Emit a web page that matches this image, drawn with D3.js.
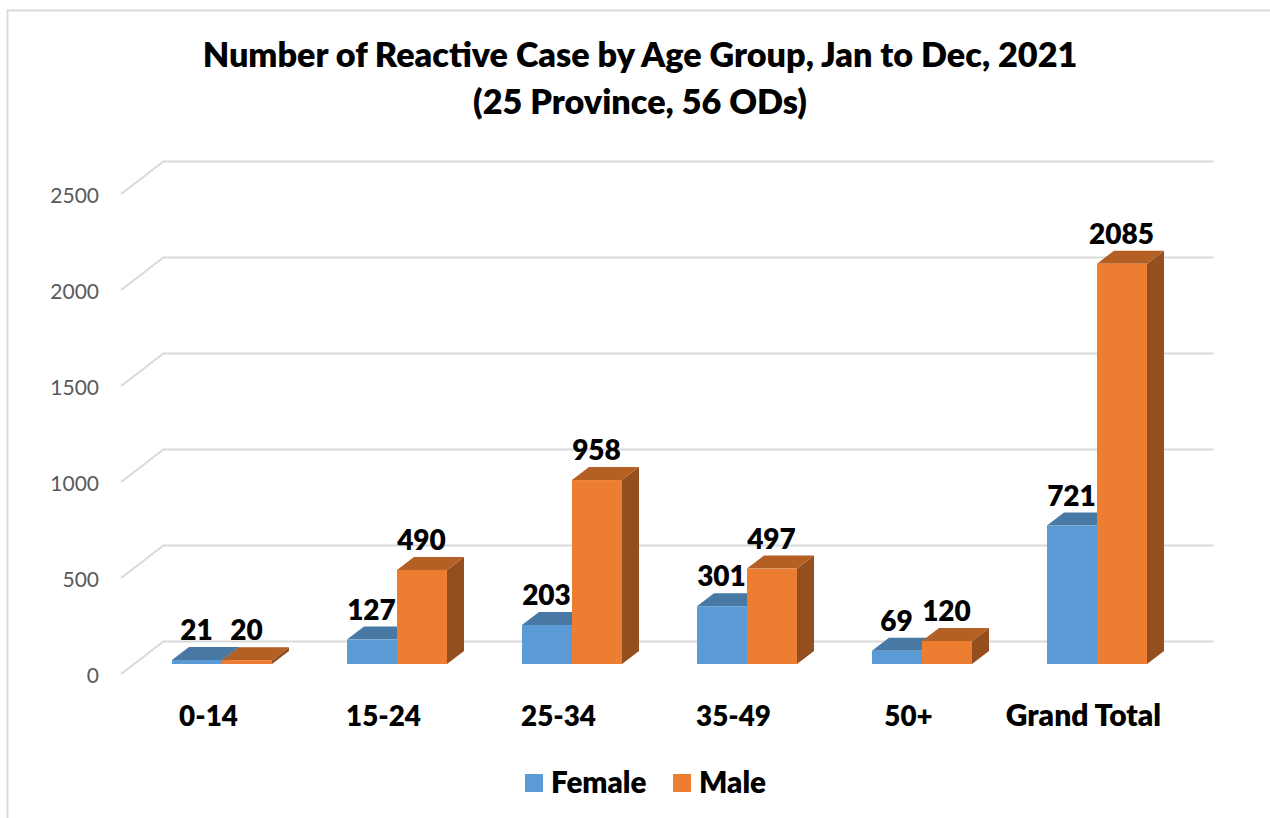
<!DOCTYPE html>
<html>
<head>
<meta charset="utf-8">
<script src="https://d3js.org/d3.v7.min.js"></script>
<style>
  body { margin: 0; background: #fff; }
  text { font-family: Lato, "Open Sans", sans-serif; }
</style>
</head>
<body>
<div id="my_dataviz"></div>
<script>

// values
var categories = ["0-14", "15-24", "25-34", "35-49", "50+", "Grand Total"];
var seriesNames = ["Female", "Male"];
var femaleValues = [21, 127, 203, 301, 69, 721];
var maleValues = [20, 490, 958, 497, 120, 2085];
var yTicks = [0, 500, 1000, 1500, 2000, 2500];
var titleLines = ["Number of Reactive Case by Age Group, Jan to Dec, 2021", "(25 Province, 56 ODs)"];

var width = 1270, height = 818;

// fake 3d: floor depth and where the bars sit inside it
var depth = {x: 42.5, y: 32.5};
var barDepth = {x: 17, y: 13};
var barShift = {x: 13.5, y: 10};

var svg = d3.select("#my_dataviz")
  .append("svg")
    .attr("width", width)
    .attr("height", height)
    .style("display", "block");

// chart frame, cut off on the right and bottom
svg.append("path")
  .attr("d", "M7.5,818V10.5H1270")
  .attr("fill", "none")
  .attr("stroke", "#d9d9d9")
  .attr("stroke-width", 2);

// scales are for the front edge of the floor
var x = d3.scaleBand()
  .domain(categories)
  .range([121, 1171]);

var y = d3.scaleLinear()
  .domain([0, 2500])
  .range([674, 194]);

var barWidth = 50;

// gridlines: diagonal on the side wall and then along the back wall
svg.append("g").selectAll("path")
  .data(yTicks)
  .join("path")
    .attr("d", function(d) {
      return d3.line()([
        [x.range()[0], y(d)],
        [x.range()[0] + depth.x, y(d) - depth.y],
        [x.range()[1] + depth.x, y(d) - depth.y]
      ]);
    })
    .attr("fill", "none")
    .attr("stroke", "#d9d9d9")
    .attr("stroke-width", 2);

// y labels
svg.append("g").selectAll("text")
  .data(yTicks)
  .join("text")
    .attr("x", 99)
    .attr("y", function(d) { return y(d) + 2; })
    .attr("dy", "0.35em")
    .attr("text-anchor", "end")
    .attr("fill", "#595959")
    .style("font-size", "21px")
    .text(function(d) { return d; });

// one 3d bar, front + top + side
function drawBars(values, index, front, top, side) {
  var g = svg.append("g");
  categories.forEach(function(c, i) {
    var x0 = x(c) + x.bandwidth() / 2 + barShift.x + (index - 1) * barWidth;
    var x1 = x0 + barWidth;
    var y0 = y(0) - barShift.y;
    var y1 = y(values[i]) - barShift.y;
    var line = d3.line();
    g.append("path")
      .attr("d", line([[x1, y0], [x1 + barDepth.x, y0 - barDepth.y], [x1 + barDepth.x, y1 - barDepth.y], [x1, y1]]) + "Z")
      .attr("fill", side);
    g.append("path")
      .attr("d", line([[x0, y1], [x0 + barDepth.x, y1 - barDepth.y], [x1 + barDepth.x, y1 - barDepth.y], [x1, y1]]) + "Z")
      .attr("fill", top);
    g.append("rect")
      .attr("x", x0)
      .attr("y", y1)
      .attr("width", barWidth)
      .attr("height", y0 - y1)
      .attr("fill", front);
  });
}

drawBars(femaleValues, 0, "#5b9bd5", "#4878a4", "#3f6d97");
drawBars(maleValues, 1, "#ed7d31", "#b45f24", "#954f1e");

// data labels
function drawLabels(values, index) {
  svg.append("g").selectAll("text")
    .data(values)
    .join("text")
      .attr("x", function(d, i) {
        return x(categories[i]) + x.bandwidth() / 2 + barShift.x + (index - 0.5) * barWidth + barDepth.x / 2 - 9;
      })
      .attr("y", function(d) { return y(d) - barShift.y - barDepth.y - 7; })
      .attr("text-anchor", "middle")
      .attr("font-weight", 800)
      .attr("fill", "#000")
      .style("font-size", "28px")
      .text(function(d) { return d; });
}
drawLabels(femaleValues, 0);
drawLabels(maleValues, 1);

// category labels, lato digits run wider than the letters here
svg.append("g").selectAll("text")
  .data(categories)
  .join("text")
    .attr("x", function(d) { return x(d) + x.bandwidth() / 2; })
    .attr("y", 725.5)
    .attr("text-anchor", "middle")
    .attr("font-weight", 800)
    .attr("fill", "#000")
    .style("font-size", function(d) { return d == "Grand Total" ? "30px" : "27.8px"; })
    .text(function(d) { return d; });

// title
svg.append("g").selectAll("text")
  .data(titleLines)
  .join("text")
    .attr("x", 640)
    .attr("y", function(d, i) { return 67 + i * 47; })
    .attr("text-anchor", "middle")
    .attr("font-weight", 800)
    .attr("fill", "#000")
    .style("font-size", "34.2px")
    .text(function(d) { return d; });

// legend
var legendX = [525, 673];
var legendColor = ["#5b9bd5", "#ed7d31"];
seriesNames.forEach(function(name, i) {
  svg.append("rect")
    .attr("x", legendX[i])
    .attr("y", 774)
    .attr("width", 18)
    .attr("height", 18)
    .attr("fill", legendColor[i]);
  svg.append("text")
    .attr("x", legendX[i] + 26)
    .attr("y", 793)
    .attr("font-weight", 800)
    .attr("fill", "#000")
    .style("font-size", "29.6px")
    .text(name);
});

</script>
</body>
</html>
